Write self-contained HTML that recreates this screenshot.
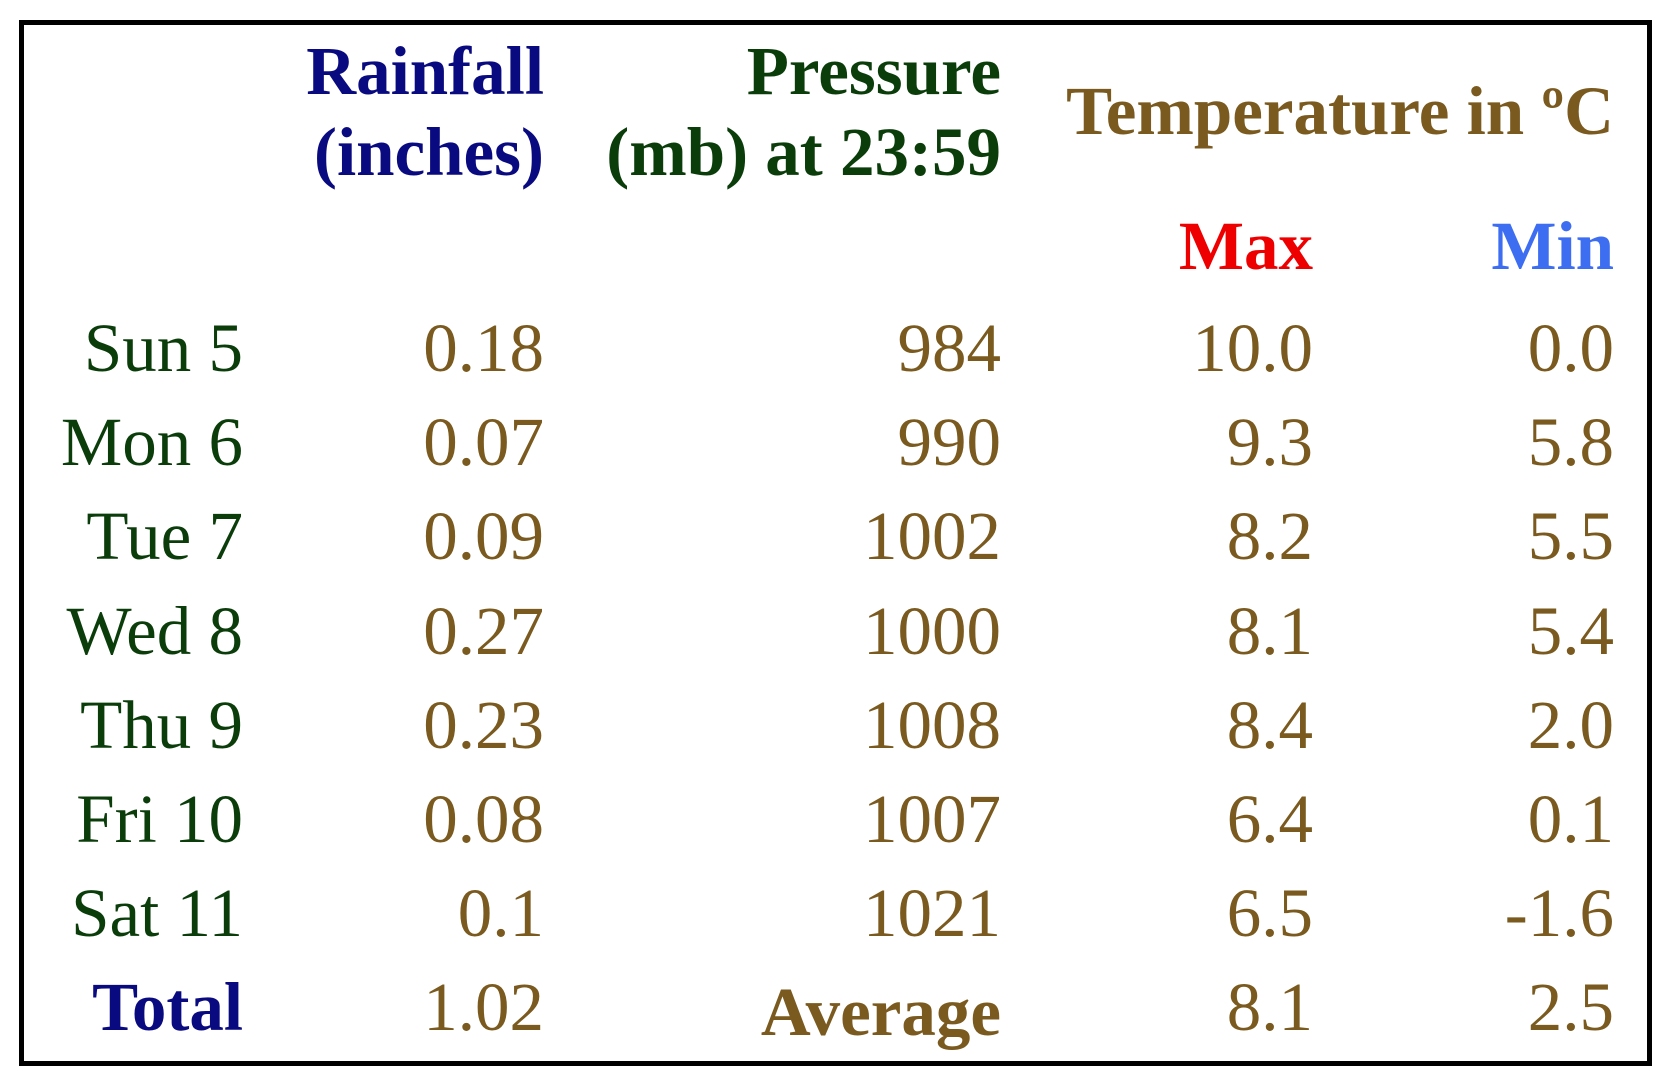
<!DOCTYPE html>
<html><head><meta charset="utf-8"><style>
html,body{margin:0;padding:0;background:#fff;}
body{width:1680px;height:1089px;position:relative;overflow:hidden;font-family:"Liberation Serif","Times New Roman",serif;}
#frame{position:absolute;left:19px;top:20px;width:1623px;height:1036px;border:5px solid #000;}
.t{position:absolute;white-space:nowrap;font-size:69px;line-height:1;}
.b{font-weight:bold;}
.navy{color:#0a0a80;}
.green{color:#0b3d0b;}
.brown{color:#7a5a1f;}
.red{color:#ee0000;}
.blue{color:#3d6ef2;}
</style></head><body>
<div id="frame"></div>
<div class="t b navy" style="right:1136px;top:37px;">Rainfall</div>
<div class="t b navy" style="right:1136px;top:118px;">(inches)</div>
<div class="t b green" style="right:679px;top:37px;">Pressure</div>
<div class="t b green" style="right:679px;top:118px;">(mb) at 23:59</div>
<div class="t b brown" style="right:66px;top:77px;">Temperature in ºC</div>
<div class="t b red" style="right:367px;top:212px;">Max</div>
<div class="t b blue" style="right:66px;top:212px;">Min</div>
<div id="rows"></div>
<script>
const days = ["Sun 5","Mon 6","Tue 7","Wed 8","Thu 9","Fri 10","Sat 11"];
const rainfall = ["0.18","0.07","0.09","0.27","0.23","0.08","0.1"];
const pressure = ["984","990","1002","1000","1008","1007","1021"];
const maxTemp = ["10.0","9.3","8.2","8.1","8.4","6.4","6.5"];
const minTemp = ["0.0","5.8","5.5","5.4","2.0","0.1","-1.6"];
const totals = ["1.02","8.1","2.5"];

const rowsEl = document.getElementById('rows');
function cell(txt, right, top, cls, name){
  const d = document.createElement('div');
  d.className = 't ' + cls;
  d.style.right = right + 'px';
  d.style.top = top + 'px';
  d.textContent = txt;
  
  
  rowsEl.appendChild(d);
}
const rowTop0 = 314, rowStep = 94.2;
days.forEach((d,i)=>{
  const top = rowTop0 + i*rowStep;
  cell(d, 1437, top, 'green', 'day-label');
  cell(rainfall[i], 1136, top, 'brown', 'rainfall-value');
  cell(pressure[i], 679, top, 'brown', 'pressure-value');
  cell(maxTemp[i], 367, top, 'brown', 'max-temp-value');
  cell(minTemp[i], 66, top, 'brown', 'min-temp-value');
});
const totTop = rowTop0 + 7*rowStep;
cell('Total', 1437, totTop, 'b navy', 'total-label');
cell(totals[0], 1136, totTop, 'brown', 'rainfall-total');
cell('Average', 679, totTop + 5, 'b brown', 'average-label');
cell(totals[1], 367, totTop, 'brown', 'max-temp-average');
cell(totals[2], 66, totTop, 'brown', 'min-temp-average');
</script>
</body></html>
